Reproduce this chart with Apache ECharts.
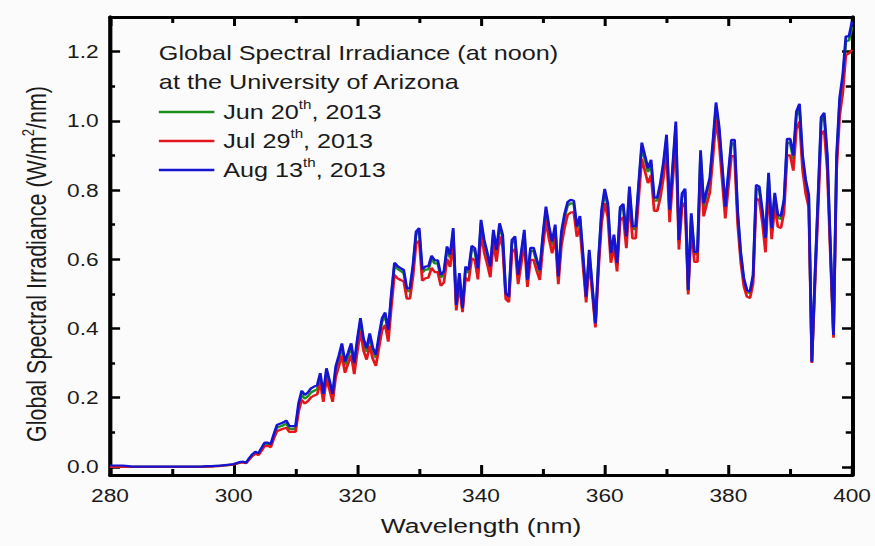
<!DOCTYPE html>
<html>
<head>
<meta charset="utf-8">
<script src="https://cdn.jsdelivr.net/npm/echarts@6/dist/echarts.min.js"></script>
<style>
  html, body { margin: 0; padding: 0; background: #fbfbfb; overflow: hidden; }
  /* the figure is drawn in a narrower box and widened to the page width */
  #chart { width: 694px; height: 546px; transform: scaleX(1.2608); transform-origin: 0 0; }
</style>
</head>
<body>
<div id="chart"></div>
<script>
// Wavelength grid (nm), 0.5 nm steps
const wavelength = [
  280,280.5,281,281.5,282,282.5,283,283.5,284,284.5,
  285,285.5,286,286.5,287,287.5,288,288.5,289,289.5,
  290,290.5,291,291.5,292,292.5,293,293.5,294,294.5,
  295,295.5,296,296.5,297,297.5,298,298.5,299,299.5,
  300,300.5,301,301.5,302,302.5,303,303.5,304,304.5,
  305,305.5,306,306.5,307,307.5,308,308.5,309,309.5,
  310,310.5,311,311.5,312,312.5,313,313.5,314,314.5,
  315,315.5,316,316.5,317,317.5,318,318.5,319,319.5,
  320,320.5,321,321.5,322,322.5,323,323.5,324,324.5,
  325,325.5,326,326.5,327,327.5,328,328.5,329,329.5,
  330,330.5,331,331.5,332,332.5,333,333.5,334,334.5,
  335,335.5,336,336.5,337,337.5,338,338.5,339,339.5,
  340,340.5,341,341.5,342,342.5,343,343.5,344,344.5,
  345,345.5,346,346.5,347,347.5,348,348.5,349,349.5,
  350,350.5,351,351.5,352,352.5,353,353.5,354,354.5,
  355,355.5,356,356.5,357,357.5,358,358.5,359,359.5,
  360,360.5,361,361.5,362,362.5,363,363.5,364,364.5,
  365,365.5,366,366.5,367,367.5,368,368.5,369,369.5,
  370,370.5,371,371.5,372,372.5,373,373.5,374,374.5,
  375,375.5,376,376.5,377,377.5,378,378.5,379,379.5,
  380,380.5,381,381.5,382,382.5,383,383.5,384,384.5,
  385,385.5,386,386.5,387,387.5,388,388.5,389,389.5,
  390,390.5,391,391.5,392,392.5,393,393.5,394,394.5,
  395,395.5,396,396.5,397,397.5,398,398.5,399,399.5,
  400
];

// Global spectral irradiance, W/m2/nm
const jun20 = [
  0,0,0,0,0,0,0,0,0,0,
  0,0,0,0,0,0,0,0,0,0,
  0,0,0,0,0,0,0,0,0,0,
  .001,.001,.001,.002,.002,.003,.003,.004,.005,.006,
  .007,.010,.013,.014,.011,.023,.034,.041,.037,.051,
  .065,.066,.062,.089,.113,.117,.120,.125,.110,.110,
  .110,.173,.208,.197,.204,.215,.220,.224,.259,.201,
  .273,.240,.202,.280,.311,.346,.294,.320,.346,.290,
  .360,.420,.360,.333,.376,.336,.315,.370,.420,.436,
  .388,.492,.582,.572,.566,.560,.508,.508,.576,.672,
  .681,.562,.570,.571,.601,.588,.588,.547,.557,.628,
  .604,.680,.464,.552,.456,.571,.561,.630,.623,.566,
  .705,.647,.612,.571,.676,.619,.695,.662,.498,.488,
  .647,.657,.549,.612,.676,.536,.624,.624,.592,.562,
  .661,.742,.686,.642,.691,.544,.670,.720,.755,.762,
  .760,.687,.716,.603,.488,.619,.515,.412,.592,.733,
  .793,.752,.611,.662,.583,.741,.750,.658,.800,.687,
  .687,.810,.925,.888,.852,.876,.769,.769,.810,.869,
  .948,.734,.859,.986,.649,.780,.794,.508,.724,.614,
  .614,.903,.752,.790,.825,.928,1.040,.972,.860,.743,
  .840,.934,.934,.729,.613,.539,.506,.502,.549,.805,
  .800,.731,.652,.840,.682,.782,.720,.716,.763,.936,
  .936,.889,1.014,1.036,.889,.820,.777,.303,.544,.771,
  .998,1.010,.889,.633,.379,.889,1.054,1.119,1.230,1.232,
  1.272
];

const jul29 = [
  0,0,0,0,0,0,0,0,0,0,
  0,0,0,0,0,0,0,0,0,0,
  0,0,0,0,0,0,0,0,0,0,
  0,.001,.001,.001,.002,.002,.003,.004,.005,.006,
  .007,.009,.012,.013,.011,.021,.031,.038,.034,.047,
  .060,.061,.057,.082,.103,.107,.110,.113,.101,.102,
  .101,.160,.194,.183,.190,.201,.206,.210,.243,.188,
  .255,.223,.188,.260,.290,.322,.272,.298,.323,.268,
  .334,.392,.336,.310,.350,.312,.292,.345,.395,.410,
  .362,.462,.555,.545,.540,.536,.486,.486,.550,.645,
  .654,.538,.545,.547,.575,.563,.563,.523,.533,.601,
  .578,.652,.452,.528,.447,.547,.537,.603,.597,.542,
  .676,.620,.586,.548,.648,.593,.666,.635,.485,.476,
  .620,.630,.528,.586,.648,.520,.598,.598,.567,.540,
  .634,.712,.658,.617,.663,.528,.640,.690,.728,.735,
  .736,.665,.690,.580,.475,.595,.500,.403,.570,.705,
  .762,.722,.590,.636,.565,.712,.722,.632,.768,.660,
  .660,.778,.890,.855,.820,.843,.740,.740,.778,.835,
  .912,.707,.826,.948,.628,.750,.764,.498,.696,.592,
  .592,.868,.724,.760,.793,.893,1.003,.936,.828,.718,
  .808,.898,.898,.702,.592,.522,.492,.488,.530,.776,
  .770,.705,.620,.808,.658,.753,.694,.690,.735,.900,
  .900,.856,.976,.998,.858,.790,.750,.300,.525,.742,
  .960,.972,.856,.610,.373,.858,1.015,1.080,1.190,1.195,
  1.205
];

const aug13 = [
  .004,.004,.004,.004,.004,.003,.002,.001,.001,.001,
  .001,.001,.001,.001,.001,.001,.001,.001,.001,.001,
  .001,.001,.001,.001,.001,.001,.001,.001,.001,.001,
  .001,.002,.002,.002,.003,.003,.004,.005,.006,.007,
  .008,.011,.014,.015,.012,.025,.036,.044,.039,.055,
  .070,.070,.066,.095,.121,.125,.128,.134,.118,.118,
  .118,.184,.220,.208,.215,.227,.232,.236,.271,.211,
  .285,.250,.211,.290,.321,.357,.304,.330,.357,.300,
  .370,.430,.370,.343,.386,.345,.324,.380,.430,.446,
  .396,.500,.590,.580,.574,.569,.516,.516,.584,.680,
  .690,.571,.579,.580,.610,.597,.597,.555,.565,.637,
  .613,.690,.468,.560,.459,.579,.569,.639,.632,.574,
  .714,.656,.620,.579,.685,.627,.704,.671,.502,.492,
  .656,.666,.555,.620,.685,.541,.633,.633,.600,.569,
  .670,.752,.695,.651,.700,.550,.680,.730,.765,.772,
  .769,.695,.725,.610,.492,.627,.520,.415,.600,.743,
  .803,.762,.618,.671,.589,.750,.760,.666,.810,.695,
  .695,.820,.937,.900,.863,.887,.778,.778,.820,.880,
  .960,.743,.870,.998,.656,.790,.804,.511,.733,.621,
  .621,.915,.762,.800,.835,.940,1.053,.984,.870,.752,
  .850,.945,.945,.738,.620,.545,.511,.507,.555,.815,
  .810,.740,.662,.850,.690,.792,.728,.725,.772,.948,
  .948,.900,1.027,1.049,.900,.830,.786,.304,.550,.780,
  1.010,1.023,.900,.640,.381,.900,1.067,1.133,1.244,1.244,
  1.287
];

const seriesNames = ['Jun 20th, 2013', 'Jul 29th, 2013', 'Aug 13th, 2013'];
const seriesLabels = [['Jun 20', 'th', ', 2013'], ['Jul 29', 'th', ', 2013'], ['Aug 13', 'th', ', 2013']];
const seriesColors = ['#1c8f1c', '#e3161c', '#1414d2'];
const yMajorTicks = [0, 0.2, 0.4, 0.6, 0.8, 1.0, 1.2];
const yMinorTicks = [0.1, 0.3, 0.5, 0.7, 0.9, 1.1];
const headerLines = ['Global Spectral Irradiance (at noon)', 'at the University of Arizona'];

const FONT = '"Liberation Sans", Arial, sans-serif';
const INK = '#1a1a1a';

const chart = echarts.init(document.getElementById('chart'), null, { renderer: 'svg' });

const pairs = vals => wavelength.map((w, i) => [w, vals[i]]);
const values = [jun20, jul29, aug13];

const frameLine = { show: true, onZero: false, lineStyle: { color: '#000', width: 3 } };

function yAxisDef(pos, ticks, len, extra) {
  return Object.assign({
    type: 'value', position: pos, min: -0.0234, max: 1.30,
    axisLine: frameLine,
    axisTick: { show: true, inside: true, length: len, customValues: ticks,
                lineStyle: { color: '#000', width: 2.5 } },
    axisLabel: { show: false },
    splitLine: { show: false }
  }, extra || {});
}

function xAxisDef(pos, extra) {
  return Object.assign({
    type: 'value', position: pos, min: 280, max: 400, interval: 20,
    axisLine: frameLine,
    axisTick: { show: true, inside: true, length: 10, lineStyle: { color: '#000', width: 2.4 } },
    minorTick: { show: true, splitNumber: 2, length: 6, lineStyle: { color: '#000', width: 2.4 } },
    splitLine: { show: false },
    minorSplitLine: { show: false },
    axisLabel: { show: false }
  }, extra || {});
}

chart.setOption({
  animation: false,
  backgroundColor: '#fbfbfb',
  textStyle: { fontFamily: FONT },
  title: {
    left: 126, top: 38.5, padding: 0,
    text: headerLines.join('\n'),
    textStyle: { fontFamily: FONT, fontSize: 20, fontWeight: 'normal', color: INK, lineHeight: 29.3 }
  },
  legend: {
    orient: 'vertical', left: 126, top: 99.5, padding: 0, itemGap: 6.5,
    selectedMode: false,
    icon: 'rect', itemWidth: 44, itemHeight: 2.4,
    data: seriesNames,
    formatter: name => {
      const p = seriesLabels[seriesNames.indexOf(name)];
      return '{a|' + p[0] + '}{s|' + p[1] + '}{a|' + p[2] + '}';
    },
    textStyle: {
      fontFamily: FONT, color: INK, padding: [0, 0, 0, 2],
      rich: {
        a: { fontFamily: FONT, fontSize: 20, color: INK, lineHeight: 25 },
        s: { fontFamily: FONT, fontSize: 12, color: INK, lineHeight: 15, verticalAlign: 'top' }
      }
    }
  },
  grid: { left: 87.25, right: 18.2, top: 17, bottom: 71, containLabel: false },
  xAxis: [
    xAxisDef('bottom', {
      axisLabel: { show: true, fontFamily: FONT, fontSize: 18, color: INK, margin: 11 },
      name: 'Wavelength (nm)', nameLocation: 'middle', nameGap: 40,
      nameTextStyle: { fontFamily: FONT, fontSize: 21, color: INK }
    }),
    xAxisDef('top', { axisTick: { show: true, inside: true, length: 9, lineStyle: { color: '#000', width: 2.4 } } })
  ],
  yAxis: [
    yAxisDef('left', yMajorTicks, 8, {
      axisLabel: { show: true, customValues: yMajorTicks, fontFamily: FONT, fontSize: 18,
                   color: INK, margin: 9, formatter: v => v.toFixed(1) },
      name: '{a|Global Spectral Irradiance (W/m}{s|2}{a|/nm)}',
      nameLocation: 'middle', nameGap: 45,
      nameTextStyle: {
        fontFamily: FONT, color: INK, padding: [0, 36, 0, 0],
        rich: {
          a: { fontFamily: FONT, fontSize: 21.5, color: INK, lineHeight: 26 },
          s: { fontFamily: FONT, fontSize: 13, color: INK, lineHeight: 15, verticalAlign: 'top' }
        }
      }
    }),
    yAxisDef('left', yMinorTicks, 4),
    yAxisDef('right', yMajorTicks, 8),
    yAxisDef('right', yMinorTicks, 5)
  ],
  series: values.map((vals, i) => ({
    type: 'line',
    name: seriesNames[i],
    data: pairs(vals),
    xAxisIndex: 0, yAxisIndex: 0,
    showSymbol: false, symbol: 'none',
    color: seriesColors[i],
    lineStyle: { color: seriesColors[i], width: 2.2 },
    z: 2 + i
  }))
});
</script>
</body>
</html>
